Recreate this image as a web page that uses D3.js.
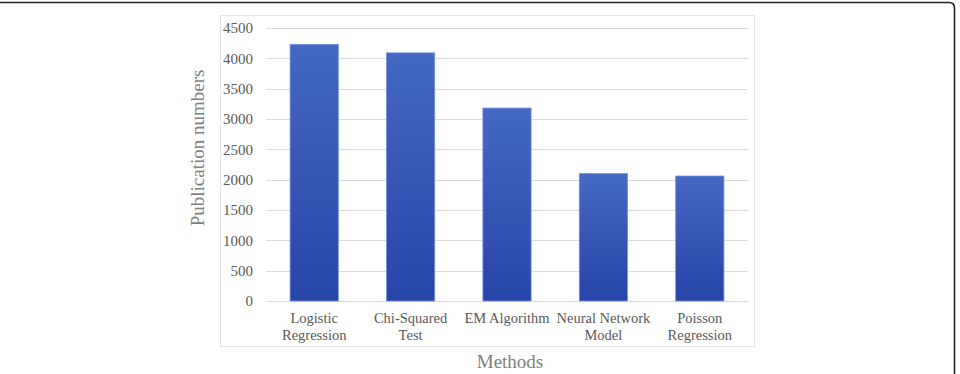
<!DOCTYPE html>
<html>
<head>
<meta charset="utf-8">
<script src="https://cdn.jsdelivr.net/npm/d3@7"></script>
<style>
  body { margin: 0; background: #fff; }
  text { font-family: "Liberation Serif", "Times New Roman", serif; }
</style>
</head>
<body>
<div id="wrapper"></div>
<script>
const methods = [
  ["Logistic", "Regression"],
  ["Chi-Squared", "Test"],
  ["EM Algorithm"],
  ["Neural Network", "Model"],
  ["Poisson", "Regression"],
]
const publications = [4230, 4090, 3180, 2100, 2060]
const yTicks = [0, 500, 1000, 1500, 2000, 2500, 3000, 3500, 4000, 4500]

function drawBars() {
  const data = methods.map((m, i) => ({ label: m, value: publications[i] }))

  const dimensions = {
    width: 960,
    height: 374,
    margin: { top: 28, left: 266, right: 212, bottom: 73 },
  }
  dimensions.boundedWidth = dimensions.width - dimensions.margin.left - dimensions.margin.right
  dimensions.boundedHeight = dimensions.height - dimensions.margin.top - dimensions.margin.bottom

  const svg = d3.select("#wrapper").append("svg")
      .attr("width", dimensions.width)
      .attr("height", dimensions.height)

  // outer frame (top + right edge with rounded corner)
  svg.append("path")
      .attr("d", "M0,2.5 L949,2.5 Q954.5,2.5 954.5,8 L954.5,374")
      .attr("fill", "none")
      .attr("stroke", "#222")
      .attr("stroke-width", 1.6)

  // chart area box
  svg.append("rect")
      .attr("x", 220.5)
      .attr("y", 15.5)
      .attr("width", 534)
      .attr("height", 331)
      .attr("fill", "none")
      .attr("stroke", "#e4e4e4")

  const defs = svg.append("defs")
  const grad = defs.append("linearGradient")
      .attr("id", "barGrad")
      .attr("x1", 0).attr("y1", 0).attr("x2", 0).attr("y2", 1)
  grad.append("stop").attr("offset", "0%").attr("stop-color", "#4568c4")
  grad.append("stop").attr("offset", "100%").attr("stop-color", "#2744a8")

  const bounds = svg.append("g")
      .attr("transform", `translate(${dimensions.margin.left},${dimensions.margin.top})`)

  const xScale = d3.scaleBand()
    .domain(d3.range(data.length))
    .range([0, dimensions.boundedWidth])
    .paddingInner(0.5)
    .paddingOuter(0.25)

  const yScale = d3.scaleLinear()
    .domain([0, 4500])
    .range([dimensions.boundedHeight, 0])

  // gridlines
  bounds.append("g")
    .selectAll("line")
    .data(yTicks)
    .join("line")
      .attr("x1", 0)
      .attr("x2", dimensions.boundedWidth)
      .attr("y1", d => Math.round(yScale(d)) + 0.5)
      .attr("y2", d => Math.round(yScale(d)) + 0.5)
      .attr("stroke", "#dcdcdc")
      .attr("stroke-width", 1)

  // bars
  bounds.append("g")
    .selectAll("rect")
    .data(data)
    .join("rect")
      .attr("x", (d, i) => xScale(i))
      .attr("y", d => yScale(d.value))
      .attr("width", xScale.bandwidth())
      .attr("height", d => dimensions.boundedHeight - yScale(d.value))
      .attr("fill", "url(#barGrad)")
      .attr("stroke", "#6f8fd8")
      .attr("stroke-width", 0.8)

  // y axis
  const yAxis = bounds.append("g")
    .call(d3.axisLeft(yScale).tickValues(yTicks).tickFormat(d3.format("d")).tickSize(0).tickPadding(13))
  yAxis.select(".domain").remove()
  yAxis.selectAll("text")
      .attr("fill", "#595959")
      .style("font-size", "15px")
      .style("font-family", "'Liberation Serif', serif")

  // x axis labels
  const xLabels = bounds.append("g")
      .attr("transform", `translate(0,${dimensions.boundedHeight})`)
    .selectAll("text")
    .data(data)
    .join("text")
      .attr("x", (d, i) => xScale(i) + xScale.bandwidth() / 2)
      .attr("y", 22)
      .attr("text-anchor", "middle")
      .attr("fill", "#595959")
      .style("font-size", "14.5px")
  xLabels.selectAll("tspan")
    .data(d => d.label)
    .join("tspan")
      .attr("x", function () { return this.parentNode.getAttribute("x") })
      .attr("dy", (d, i) => i === 0 ? 0 : 17)
      .text(d => d)

  // axis titles
  svg.append("text")
      .attr("transform", `translate(204,148) rotate(-90)`)
      .attr("text-anchor", "middle")
      .attr("fill", "#7f7f7f")
      .style("font-size", "19px")
      .text("Publication numbers")

  svg.append("text")
      .attr("x", 510)
      .attr("y", 368)
      .attr("text-anchor", "middle")
      .attr("fill", "#7f7f7f")
      .style("font-size", "19px")
      .text("Methods")
}
drawBars()
</script>
</body>
</html>
